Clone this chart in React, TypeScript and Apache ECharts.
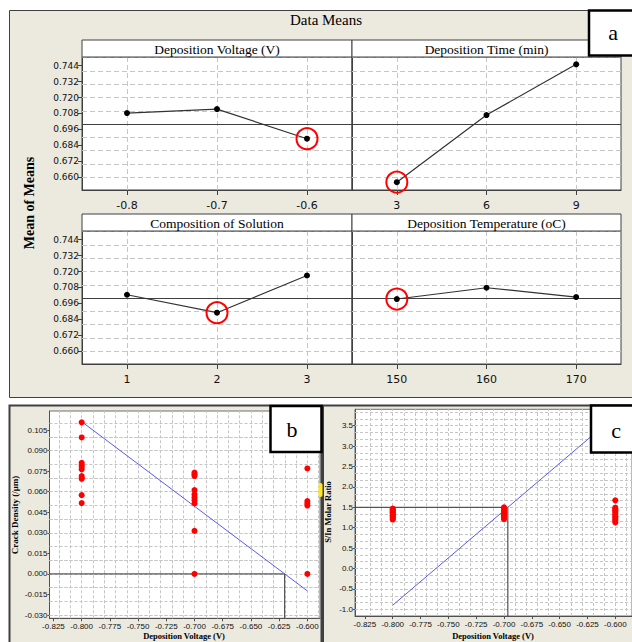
import React, { useEffect, useRef } from "react";
import * as echarts from "echarts";

// ---------- Panel a : main effects (Data Means) ----------
const voltageLevels = [-0.8, -0.7, -0.6];
const voltageMeans = [0.7083, 0.7113, 0.689];
const timeLevels = [3, 6, 9];
const timeMeans = [0.6563, 0.7068, 0.745];
const compositionLevels = [1, 2, 3];
const compositionMeans = [0.7025, 0.689, 0.717];
const temperatureLevels = [150, 160, 170];
const temperatureMeans = [0.6993, 0.7078, 0.7008];
const grandMean = 0.7027;
const meanTicks = [0.66, 0.672, 0.684, 0.696, 0.708, 0.72, 0.732, 0.744];
const factorTitles = [
  "Deposition Voltage (V)",
  "Deposition Time (min)",
  "Composition of Solution",
  "Deposition Temperature (oC)",
];
const optimalLevelIndex = [2, 0, 1, 0];

// ---------- Panel b : crack density vs voltage ----------
const voltageTicks = [-0.825, -0.8, -0.775, -0.75, -0.725, -0.7, -0.675, -0.65, -0.625, -0.6];
const crackVoltages = [-0.8, -0.7, -0.6];
const crackDensityAtVoltage = [
  [0.1106, 0.0996, 0.0811, 0.0795, 0.0782, 0.0763, 0.0714, 0.07, 0.0694, 0.0575, 0.0517],
  [0.074, 0.0727, 0.0714, 0.0612, 0.058, 0.0558, 0.0538, 0.0514, 0.0314, 0],
  [0.077, 0.0531, 0.0514, 0.0499, 0],
];
const crackFitLine = [
  [-0.8, 0.1111],
  [-0.6, -0.0124],
];
const crackTargetValue = 0;
const crackTicks = [-0.03, -0.015, 0, 0.015, 0.03, 0.045, 0.06, 0.075, 0.09, 0.105];

// ---------- Panel c : S/In molar ratio vs voltage ----------
const ratioVoltages = [-0.8, -0.7, -0.6];
const molarRatioAtVoltage = [
  [1.47, 1.45, 1.42, 1.4, 1.38, 1.35, 1.32, 1.3, 1.28, 1.25, 1.22, 1.2],
  [1.5, 1.47, 1.44, 1.41, 1.38, 1.35, 1.31, 1.28, 1.25, 1.21],
  [1.67, 1.49, 1.46, 1.43, 1.4, 1.36, 1.32, 1.28, 1.25, 1.21, 1.17, 1.13],
];
const ratioFitLine = [
  [-0.8, -0.9],
  [-0.6, 3.74],
];
const ratioTargetValue = 1.5;
const ratioTicks = [-1, -0.5, 0, 0.5, 1, 1.5, 2, 2.5, 3, 3.5];

// ---------- styling ----------
const FRAME_BG = "#ECE9DF";
const DARK = "#404040";
const GRID_LINE = "#c6c6c6";

function steps(a: number, b: number, step: number) {
  const out: number[] = [];
  const n = Math.round((b - a) / step);
  for (let i = 0; i <= n; i++) out.push(+(a + i * step).toFixed(6));
  return out;
}

function crossAt(fit: number[][], target: number) {
  const [x1, y1] = fit[0];
  const [x2, y2] = fit[1];
  return x1 + ((target - y1) * (x2 - x1)) / (y2 - y1);
}

function buildOption() {
  const grids: any[] = [];
  const xAxes: any[] = [];
  const yAxes: any[] = [];
  const series: any[] = [];

  const mainPanels = [
    { levels: voltageLevels, means: voltageMeans, min: -0.85, max: -0.55, fmt: (v: number) => v.toFixed(1), grid: { left: 82, top: 57, width: 270, height: 133 }, showY: true },
    { levels: timeLevels, means: timeMeans, min: 1.5, max: 10.5, fmt: (v: number) => String(v), grid: { left: 352, top: 57, width: 269, height: 133 }, showY: false },
    { levels: compositionLevels, means: compositionMeans, min: 0.5, max: 3.5, fmt: (v: number) => String(v), grid: { left: 82, top: 231, width: 270, height: 133 }, showY: true },
    { levels: temperatureLevels, means: temperatureMeans, min: 145, max: 175, fmt: (v: number) => String(v), grid: { left: 352, top: 231, width: 269, height: 133 }, showY: false },
  ];
  const meanMin = 0.6504;
  const meanMax = 0.7505;
  const meanGridValues = steps(0.654, 0.75, 0.006);

  mainPanels.forEach((p, i) => {
    grids.push({ ...p.grid, show: true, backgroundColor: "#ffffff", borderColor: DARK, borderWidth: 1, containLabel: false });
    xAxes.push({
      type: "value",
      gridIndex: i,
      min: p.min,
      max: p.max,
      axisLine: { show: true, onZero: false, lineStyle: { color: DARK } },
      axisTick: { show: true, customValues: p.levels, length: 5, lineStyle: { color: DARK } },
      axisLabel: { customValues: p.levels, formatter: p.fmt, fontFamily: "DejaVu Sans", fontSize: 11, color: "#111", margin: 10 },
      splitLine: { show: false },
    });
    yAxes.push({
      type: "value",
      gridIndex: i,
      min: meanMin,
      max: meanMax,
      axisLine: { show: true, onZero: false, lineStyle: { color: DARK } },
      axisTick: { show: p.showY, customValues: meanTicks, length: 4, lineStyle: { color: DARK } },
      axisLabel: { show: p.showY, customValues: meanTicks, formatter: (v: number) => v.toFixed(3), fontFamily: "DejaVu Sans", fontSize: 9, color: "#111", margin: 3 },
      splitLine: { show: false },
    });
    const pts = p.levels.map((l, k) => [l, p.means[k]]);
    series.push({
      type: "line",
      xAxisIndex: i,
      yAxisIndex: i,
      data: pts,
      symbol: "none",
      lineStyle: { opacity: 0 },
      silent: true,
      z: 1,
      markLine: {
        z: 1,
        silent: true,
        symbol: ["none", "none"],
        label: { show: false },
        emphasis: { disabled: true },
        lineStyle: { type: [5, 3], color: GRID_LINE, width: 1 },
        data: [...meanGridValues.map((v) => ({ yAxis: v })), ...p.levels.map((v) => ({ xAxis: v }))],
      },
    });
    series.push({
      type: "line",
      xAxisIndex: i,
      yAxisIndex: i,
      data: pts,
      symbol: "circle",
      symbolSize: 6,
      showSymbol: true,
      itemStyle: { color: "#000", borderColor: "#000", borderWidth: 0, opacity: 1 },
      lineStyle: { color: "#333", width: 1.2 },
      z: 3,
      markLine: {
        z: 2,
        silent: true,
        symbol: ["none", "none"],
        label: { show: false },
        emphasis: { disabled: true },
        lineStyle: { type: "solid", color: DARK, width: 1 },
        data: [{ yAxis: grandMean }],
      },
    });
    const k = optimalLevelIndex[i];
    series.push({
      type: "scatter",
      xAxisIndex: i,
      yAxisIndex: i,
      data: [[p.levels[k], p.means[k]]],
      symbol: "circle",
      symbolSize: 21,
      itemStyle: { color: "rgba(0,0,0,0)", borderColor: "#ff0000", borderWidth: 2, opacity: 1 },
      silent: true,
      z: 4,
    });
  });

  // Scatter panels b and c
  const scatterPanels = [
    {
      grid: { left: 49.5, top: 411, width: 270.5, height: 207.3 },
      xMin: -0.8285, xMax: -0.5888, yMin: -0.0324, yMax: 0.1189,
      yTicks: crackTicks, yFmt: (v: number) => v.toFixed(3), yGrid: steps(-0.03, 0.115, 0.005),
      levels: crackVoltages, values: crackDensityAtVoltage, fit: crackFitLine, target: crackTargetValue,
    },
    {
      grid: { left: 355, top: 409.3, width: 281.3, height: 206.7 },
      xMin: -0.8339, xMax: -0.585, yMin: -1.164, yMax: 3.902,
      yTicks: ratioTicks, yFmt: (v: number) => v.toFixed(1), yGrid: steps(-1, 3.8333, 0.5 / 3),
      levels: ratioVoltages, values: molarRatioAtVoltage, fit: ratioFitLine, target: ratioTargetValue,
    },
  ];
  const xGrid = steps(-0.825, -0.5917, 0.025 / 3);

  scatterPanels.forEach((p, j) => {
    const i = 4 + j;
    grids.push({ ...p.grid, show: true, backgroundColor: "#ffffff", borderColor: "#707070", borderWidth: 1, containLabel: false });
    xAxes.push({
      type: "value",
      gridIndex: i,
      min: p.xMin,
      max: p.xMax,
      axisLine: { show: true, onZero: false, lineStyle: { color: "#505050" } },
      axisTick: { show: true, customValues: voltageTicks, length: 3, lineStyle: { color: "#505050" } },
      axisLabel: { customValues: voltageTicks, formatter: (v: number) => v.toFixed(3), fontFamily: "Liberation Sans", fontSize: 8, color: "#111", margin: 4 },
      splitLine: { show: false },
    });
    yAxes.push({
      type: "value",
      gridIndex: i,
      min: p.yMin,
      max: p.yMax,
      axisLine: { show: true, onZero: false, lineStyle: { color: "#505050" } },
      axisTick: { show: true, customValues: p.yTicks, length: 2, lineStyle: { color: "#505050" } },
      axisLabel: { customValues: p.yTicks, formatter: p.yFmt, fontFamily: "Liberation Sans", fontSize: 8, color: "#111", margin: 2 },
      splitLine: { show: false },
    });
    series.push({
      type: "line",
      xAxisIndex: i,
      yAxisIndex: i,
      data: p.fit,
      symbol: "none",
      lineStyle: { opacity: 0 },
      silent: true,
      z: 1,
      markLine: {
        z: 1,
        silent: true,
        symbol: ["none", "none"],
        label: { show: false },
        emphasis: { disabled: true },
        lineStyle: { type: [3, 2], color: GRID_LINE, width: 1 },
        data: [...p.yGrid.filter((v) => v >= p.yMin && v <= p.yMax).map((v) => ({ yAxis: v })), ...xGrid.map((v) => ({ xAxis: v }))],
      },
    });
    const cross = crossAt(p.fit, p.target);
    series.push({
      type: "line",
      xAxisIndex: i,
      yAxisIndex: i,
      data: [
        [p.xMin, p.target],
        [cross, p.target],
        [cross, p.yMin],
      ],
      symbol: "none",
      lineStyle: { color: "#303030", width: 1 },
      silent: true,
      z: 2,
    });
    series.push({
      type: "line",
      xAxisIndex: i,
      yAxisIndex: i,
      data: p.fit,
      symbol: "none",
      lineStyle: { color: "#5a5af0", width: 1 },
      silent: true,
      z: 3,
    });
    const pts: number[][] = [];
    p.levels.forEach((l, k) => p.values[k].forEach((v) => pts.push([l, v])));
    series.push({
      type: "scatter",
      xAxisIndex: i,
      yAxisIndex: i,
      data: pts,
      symbol: "circle",
      symbolSize: 6,
      itemStyle: { color: "#ff0000", borderColor: "#ff0000", borderWidth: 0, opacity: 1 },
      silent: true,
      z: 4,
    });
  });

  const headerRects = [
    { x: 82, y: 40, w: 270 },
    { x: 352, y: 40, w: 269 },
    { x: 82, y: 214, w: 270 },
    { x: 352, y: 214, w: 269 },
  ];

  const serif = '"Liberation Serif", "Times New Roman", serif';
  const graphic: any[] = [
    // frames
    { type: "rect", z: -10, shape: { x: 9.5, y: 10.5, width: 640, height: 387 }, style: { fill: FRAME_BG, stroke: DARK, lineWidth: 1 } },
    { type: "rect", z: -10, shape: { x: 9.5, y: 405.5, width: 312, height: 260 }, style: { fill: FRAME_BG, stroke: DARK, lineWidth: 2 } },
    { type: "rect", z: -10, shape: { x: 323, y: 405.5, width: 320, height: 260 }, style: { fill: FRAME_BG, stroke: DARK, lineWidth: 2 } },
    // title
    { type: "text", x: 326, y: 20, style: { text: "Data Means", font: `15px ${serif}`, fill: "#000", textAlign: "center", textVerticalAlign: "middle" } },
    { type: "text", x: 29, y: 203, rotation: Math.PI / 2, style: { text: "Mean of Means", font: `bold 14px ${serif}`, fill: "#000", textAlign: "center", textVerticalAlign: "middle" } },
    ...headerRects.map((r) => ({ type: "rect", z: 5, shape: { x: r.x, y: r.y, width: r.w, height: 17 }, style: { fill: "#fff", stroke: DARK, lineWidth: 1 } })),
    ...headerRects.map((r, k) => ({ type: "text", z: 6, x: r.x + r.w / 2, y: r.y + 9, style: { text: factorTitles[k], font: `13.5px ${serif}`, fill: "#000", textAlign: "center", textVerticalAlign: "middle" } })),
    // panel b/c axis titles
    { type: "text", z: 6, x: 15, y: 515, rotation: Math.PI / 2, style: { text: "Crack Density (/µm)", font: `bold 9px ${serif}`, fill: "#000", textAlign: "center", textVerticalAlign: "middle" } },
    { type: "text", z: 6, x: 184, y: 636, style: { text: "Deposition Voltage (V)", font: `bold 8.5px ${serif}`, fill: "#000", textAlign: "center", textVerticalAlign: "middle" } },
    { type: "text", z: 6, x: 328, y: 512, rotation: Math.PI / 2, style: { text: "S/In Molar Ratio", font: `bold 8.5px ${serif}`, fill: "#000", textAlign: "center", textVerticalAlign: "middle" } },
    { type: "text", z: 6, x: 493, y: 636, style: { text: "Deposition Voltage (V)", font: `bold 8.5px ${serif}`, fill: "#000", textAlign: "center", textVerticalAlign: "middle" } },
    // yellow mark at panel b edge
    { type: "rect", z: 50, shape: { x: 318.5, y: 483, width: 4, height: 14, r: 2 }, style: { fill: "#ffe81a" } },
    // letter boxes
    { type: "rect", z: 100, shape: { x: 589, y: 10.5, width: 60, height: 45 }, style: { fill: "#fff", stroke: "#000", lineWidth: 2.5 } },
    { type: "text", z: 101, x: 613, y: 32, style: { text: "a", font: `22px ${serif}`, fill: "#000", textAlign: "center", textVerticalAlign: "middle" } },
    { type: "rect", z: 100, shape: { x: 270.5, y: 406, width: 51, height: 46 }, style: { fill: "#fff", stroke: "#000", lineWidth: 2.5 } },
    { type: "text", z: 101, x: 292, y: 429, style: { text: "b", font: `22px ${serif}`, fill: "#000", textAlign: "center", textVerticalAlign: "middle" } },
    { type: "rect", z: 100, shape: { x: 591, y: 405.5, width: 60, height: 47 }, style: { fill: "#fff", stroke: "#000", lineWidth: 2.5 } },
    { type: "text", z: 101, x: 616, y: 430, style: { text: "c", font: `22px ${serif}`, fill: "#000", textAlign: "center", textVerticalAlign: "middle" } },
  ];

  return {
    animation: false,
    backgroundColor: "#ffffff",
    grid: grids,
    xAxis: xAxes,
    yAxis: yAxes,
    series,
    graphic,
  };
}

export default function App() {
  const ref = useRef<HTMLDivElement>(null);
  useEffect(() => {
    if (!ref.current) return;
    const chart = echarts.init(ref.current, undefined, { renderer: "svg", width: 632, height: 642 });
    chart.setOption(buildOption() as any);
    return () => chart.dispose();
  }, []);
  return <div ref={ref} style={{ position: "fixed", left: 0, top: 0, width: 632, height: 642 }} />;
}
